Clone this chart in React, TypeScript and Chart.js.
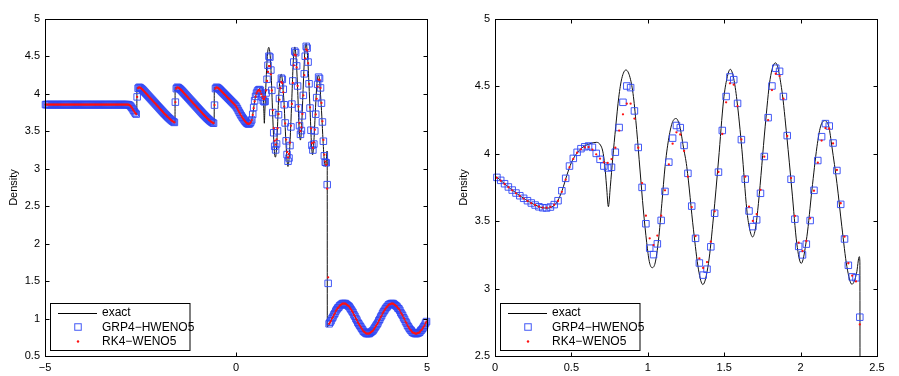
import { useEffect, useRef } from 'react';
import { Chart, registerables } from 'chart.js';

Chart.register(...registerables);

// ---------------- data ----------------
const DX = 0.025; // cell width of the numerical grid

// cell averages for x in [-5, 0] (same for both schemes at this scale)
const westDensity = [
  3.857, 3.857, 3.857, 3.857, 3.857, 3.857, 3.857, 3.857, 3.857, 3.857,
  3.857, 3.857, 3.857, 3.857, 3.857, 3.857, 3.857, 3.857, 3.857, 3.857,
  3.857, 3.857, 3.857, 3.857, 3.857, 3.857, 3.857, 3.857, 3.857, 3.857,
  3.857, 3.857, 3.857, 3.857, 3.857, 3.857, 3.857, 3.857, 3.857, 3.857,
  3.857, 3.857, 3.857, 3.857, 3.857, 3.857, 3.857, 3.857, 3.857, 3.857,
  3.857, 3.857, 3.857, 3.857, 3.857, 3.857, 3.857, 3.857, 3.857, 3.857,
  3.857, 3.857, 3.857, 3.857, 3.857, 3.857, 3.857, 3.857, 3.857, 3.857,
  3.857, 3.857, 3.857, 3.857, 3.857, 3.857, 3.857, 3.857, 3.857, 3.857,
  3.857, 3.857, 3.857, 3.857, 3.857, 3.857, 3.857,
  3.855, 3.849, 3.838, 3.822, 3.803, 3.783, 3.763, 3.744, 3.730,
  3.96,
  4.075, 4.088, 4.084, 4.075, 4.064, 4.052,
  4.038, 4.024, 4.010, 3.996, 3.982, 3.968, 3.954, 3.940, 3.926, 3.912,
  3.898, 3.884, 3.870, 3.856, 3.842, 3.828, 3.814, 3.800, 3.786, 3.772,
  3.758, 3.744, 3.731, 3.718, 3.705, 3.692, 3.680, 3.668, 3.657, 3.646,
  3.636, 3.627, 3.619,
  3.89,
  4.07, 4.088, 4.084, 4.075, 4.064, 4.052,
  4.039, 4.025, 4.011, 3.997, 3.983, 3.969, 3.955, 3.941, 3.927, 3.913,
  3.899, 3.885, 3.871, 3.857, 3.843, 3.829, 3.815, 3.801, 3.787, 3.773,
  3.759, 3.745, 3.731, 3.718, 3.705, 3.692, 3.679, 3.667, 3.655, 3.644,
  3.634, 3.624, 3.615, 3.608,
  3.85,
  4.07, 4.088, 4.084, 4.075, 4.064, 4.052, 4.039, 4.026, 4.013, 4.000,
  3.987, 3.974, 3.961, 3.948, 3.935, 3.922, 3.909, 3.896, 3.883, 3.870,
  3.857, 3.843,
];

// cell averages for x in [0, 2.4]
const grpMid = [
  3.825, 3.803, 3.778, 3.754, 3.731, 3.709, 3.689, 3.670, 3.652, 3.635,
  3.620, 3.607, 3.600, 3.598, 3.605, 3.623, 3.652, 3.726, 3.818, 3.909,
  3.966, 4.011, 4.038, 4.052, 4.058, 4.048, 4.003, 3.959, 3.909, 3.895,
  3.900, 4.012, 4.195, 4.382, 4.503, 4.491, 4.318, 4.047, 3.751, 3.481,
  3.300, 3.252, 3.332, 3.506, 3.721, 3.938, 4.116, 4.210, 4.194, 4.062,
  3.855, 3.612, 3.373, 3.190, 3.100, 3.144, 3.310, 3.559, 3.864, 4.173,
  4.425, 4.570, 4.550, 4.374, 4.105, 3.812, 3.576, 3.460, 3.510, 3.707,
  3.980, 4.268, 4.503, 4.635, 4.612, 4.425, 4.135, 3.811, 3.515, 3.313,
  3.250, 3.330, 3.505, 3.729, 3.950, 4.127, 4.224, 4.206, 4.080, 3.876,
  3.625, 3.368, 3.173, 3.087, 3.080, 2.788,
];
const rkMid = [
  3.822, 3.800, 3.776, 3.752, 3.729, 3.707, 3.687, 3.668, 3.650, 3.634,
  3.620, 3.608, 3.601, 3.600, 3.606, 3.622, 3.650, 3.718, 3.808, 3.900,
  3.962, 4.008, 4.033, 4.048, 4.050, 4.031, 3.996, 3.964, 3.937, 3.932,
  3.961, 4.045, 4.172, 4.293, 4.372, 4.372, 4.261, 4.045, 3.783, 3.541,
  3.373, 3.323, 3.393, 3.541, 3.729, 3.922, 4.075, 4.159, 4.143, 4.021,
  3.830, 3.605, 3.390, 3.224, 3.153, 3.197, 3.348, 3.573, 3.865, 4.147,
  4.382, 4.523, 4.513, 4.354, 4.107, 3.830, 3.608, 3.502, 3.553, 3.733,
  3.979, 4.250, 4.473, 4.594, 4.578, 4.409, 4.132, 3.820, 3.539, 3.341,
  3.279, 3.353, 3.521, 3.726, 3.934, 4.098, 4.191, 4.186, 4.077, 3.880,
  3.633, 3.385, 3.188, 3.096, 3.053, 2.734,
];

// shock cell (x = 2.4125)
const grpShock = [1.47];
const rkShock = [1.55];

// cell averages for x in [2.425, 5]
const eastDensity = [
  0.93, 0.95, 0.97, 1.00, 1.02, 1.05, 1.07, 1.10, 1.12, 1.14,
  1.15, 1.17, 1.18, 1.19, 1.20, 1.20, 1.20, 1.20, 1.19, 1.18,
  1.17, 1.16, 1.14, 1.12, 1.10, 1.08, 1.05, 1.03, 1.00, 0.98,
  0.95, 0.93, 0.91, 0.89, 0.87, 0.85, 0.83, 0.82, 0.81, 0.80,
  0.80, 0.80, 0.80, 0.81, 0.82, 0.83, 0.84, 0.86, 0.88, 0.90,
  0.92, 0.94, 0.97, 0.99, 1.02, 1.04, 1.07, 1.09, 1.11, 1.13,
  1.15, 1.16, 1.18, 1.19, 1.19, 1.20, 1.20, 1.20, 1.19, 1.18,
  1.17, 1.16, 1.14, 1.13, 1.11, 1.08, 1.06, 1.04, 1.01, 0.99,
  0.96, 0.94, 0.91, 0.89, 0.87, 0.85, 0.84, 0.82, 0.81, 0.81,
  0.80, 0.80, 0.80, 0.81, 0.81, 0.82, 0.84, 0.85, 0.87, 0.89,
  0.91, 0.94, 0.96,
];

// exact (reference) solution
const exactX = [
  -5, -2.83, -2.77, -2.7, -2.64, -2.597, -2.593, -2.53, -2.44, -2.09,
  -1.74, -1.66, -1.597, -1.593, -1.53, -1.44, -1.09, -0.74, -0.65, -0.572,
  -0.568, -0.5, -0.41, -0.2, 0, 0.1, 0.2, 0.3, 0.345, 0.39,
  0.41, 0.44, 0.47, 0.5, 0.53, 0.57, 0.62, 0.665, 0.69, 0.705,
  0.718, 0.73, 0.742, 0.755, 0.77, 0.79, 0.81, 0.83, 0.857, 0.884,
  0.906, 0.927, 0.949, 0.971, 0.993, 1.01, 1.028, 1.048, 1.07, 1.092,
  1.113, 1.135, 1.16, 1.185, 1.21, 1.233, 1.255, 1.299, 1.332, 1.36,
  1.397, 1.43, 1.463, 1.496, 1.518, 1.54, 1.562, 1.583, 1.616, 1.648,
  1.665, 1.686, 1.705, 1.724, 1.768, 1.8, 1.836, 1.877, 1.91, 1.943,
  1.975, 2.004, 2.041, 2.074, 2.107, 2.13, 2.157, 2.185, 2.205, 2.238,
  2.27, 2.303, 2.336, 2.366, 2.384, 2.388, 2.39, 2.513, 2.67, 2.827,
  2.985, 3.142, 3.299, 3.456, 3.613, 3.77, 3.927, 4.084, 4.241, 4.398,
  4.555, 4.712, 4.869, 5,
];
const exactY = [
  3.857, 3.857, 3.849, 3.81, 3.752, 3.728, 4.088, 4.084, 4.05, 3.856,
  3.668, 3.63, 3.615, 4.088, 4.084, 4.05, 3.857, 3.667, 3.625, 3.607,
  4.088, 4.084, 4.05, 3.92, 3.835, 3.742, 3.661, 3.603, 3.597, 3.62,
  3.65, 3.73, 3.84, 3.935, 3.995, 4.045, 4.075, 4.085, 4.065, 4.02,
  3.92, 3.76, 3.608, 3.76, 3.96, 4.2, 4.42, 4.56, 4.622, 4.565,
  4.424, 4.18, 3.88, 3.583, 3.34, 3.2, 3.155, 3.19, 3.36, 3.632,
  3.906, 4.1, 4.23, 4.262, 4.2, 4.05, 3.905, 3.436, 3.139, 3.03,
  3.187, 3.534, 3.954, 4.4, 4.56, 4.627, 4.56, 4.4, 4.03, 3.584,
  3.45, 3.383, 3.45, 3.632, 4.2, 4.55, 4.675, 4.473, 4.127, 3.731,
  3.336, 3.187, 3.385, 3.731, 4.052, 4.2, 4.246, 4.2, 4.052, 3.78,
  3.459, 3.163, 3.032, 3.113, 3.237, 3.2, 0.89, 1.0, 1.141, 1.2,
  1.141, 1.0, 0.859, 0.8, 0.859, 1.0, 1.141, 1.2, 1.141, 1.0,
  0.859, 0.8, 0.859, 0.974,
];

// axes
const leftXTicks = [-5, 0, 5];
const leftYTicks = [0.5, 1, 1.5, 2, 2.5, 3, 3.5, 4, 4.5, 5];
const rightXTicks = [0, 0.5, 1, 1.5, 2, 2.5];
const rightYTicks = [2.5, 3, 3.5, 4, 4.5, 5];
const legendLabels = ['exact', 'GRP4\u2212HWENO5', 'RK4\u2212WENO5'];
const yTitle = 'Density';

// ---------------- helpers ----------------
const FONT = '"Liberation Sans", Arial, Helvetica, sans-serif';
const BLUE = 'rgba(45, 70, 245, 0.9)';
const RED = '#ff1010';

const cells = (start: number, vals: number[]) =>
  vals.map((v, i) => ({ x: start + (i + 0.5) * DX, y: v }));

const grpAll = [...cells(-5, westDensity), ...cells(0, grpMid), ...cells(2.4, [...grpShock, ...eastDensity])];
const rkAll = [...cells(-5, westDensity), ...cells(0, rkMid), ...cells(2.4, [...rkShock, ...eastDensity])];
const grpZoom = cells(0, grpMid);
const rkZoom = cells(0, rkMid);
const exactPts = exactX.map((x, i) => ({ x, y: exactY[i] }));

const fmt = (v: number | string) => String(v).replace('-', '\u2212');

const framePlugin = {
  id: 'matlabFrame',
  afterDatasetsDraw(chart: any) {
    const { ctx, chartArea: a, scales } = chart;
    const L = Math.round(a.left) + 0.5;
    const R = Math.round(a.right) + 0.5;
    const T = Math.round(a.top) + 0.5;
    const B = Math.round(a.bottom) + 0.5;
    ctx.save();
    ctx.strokeStyle = '#000';
    ctx.lineWidth = 1;
    ctx.strokeRect(L, T, R - L, B - T);
    const tl = 4;
    ctx.beginPath();
    scales.x.ticks.forEach((t: any) => {
      const px = Math.round(scales.x.getPixelForValue(t.value)) + 0.5;
      ctx.moveTo(px, B); ctx.lineTo(px, B - tl);
      ctx.moveTo(px, T); ctx.lineTo(px, T + tl);
    });
    scales.y.ticks.forEach((t: any) => {
      const py = Math.round(scales.y.getPixelForValue(t.value)) + 0.5;
      ctx.moveTo(L, py); ctx.lineTo(L + tl, py);
      ctx.moveTo(R, py); ctx.lineTo(R - tl, py);
    });
    ctx.stroke();
    // y title
    ctx.fillStyle = '#000';
    ctx.font = `11px ${FONT}`;
    ctx.translate(13.5, (a.top + a.bottom) / 2);
    ctx.rotate(-Math.PI / 2);
    ctx.textAlign = 'center';
    ctx.textBaseline = 'middle';
    ctx.fillText(yTitle, 0, 0);
    ctx.restore();
  },
};

const legendPlugin = {
  id: 'matlabLegend',
  afterDraw(chart: any) {
    const { ctx, chartArea: a } = chart;
    const bx = Math.round(a.left) + 5.5;
    const by = Math.round(a.bottom) - 52.5;
    const bw = 139.5;
    const bh = 47;
    ctx.save();
    ctx.fillStyle = '#fff';
    ctx.fillRect(bx, by, bw, bh);
    ctx.strokeStyle = '#000';
    ctx.lineWidth = 1;
    ctx.strokeRect(bx, by, bw, bh);
    const rows = [by + 9, by + 23.5, by + 38];
    // line sample
    ctx.strokeStyle = '#000';
    ctx.beginPath();
    ctx.moveTo(bx + 7.5, Math.round(rows[0]) + 0.5);
    ctx.lineTo(bx + 46.5, Math.round(rows[0]) + 0.5);
    ctx.stroke();
    // square
    const mx = bx + 27.5;
    const s = 6.5;
    ctx.strokeStyle = BLUE;
    ctx.strokeRect(mx - s / 2, rows[1] - s / 2, s, s);
    // dot
    ctx.fillStyle = RED;
    ctx.beginPath();
    ctx.arc(mx, rows[2], 1.2, 0, Math.PI * 2);
    ctx.fill();
    // labels
    ctx.fillStyle = '#000';
    ctx.font = `12px ${FONT}`;
    ctx.textAlign = 'left';
    ctx.textBaseline = 'middle';
    legendLabels.forEach((lab, i) => ctx.fillText(lab, bx + 51.5, rows[i] + 0.5));
    ctx.restore();
  },
};

function makeConfig(p: {
  xMin: number; xMax: number; yMin: number; yMax: number;
  xTicks: number[]; yTicks: number[];
  grp: { x: number; y: number }[]; rk: { x: number; y: number }[];
}): any {
  const tickFont = { family: FONT, size: 11 };
  return {
    type: 'scatter',
    data: {
      datasets: [
        {
          label: legendLabels[2], data: p.rk, showLine: false, clip: false, order: 0,
          pointStyle: 'circle', pointRadius: 1.15, pointBorderWidth: 0,
          pointBackgroundColor: RED, pointBorderColor: RED,
        },
        {
          label: legendLabels[1], data: p.grp, showLine: false, clip: false, order: 1,
          pointStyle: 'rect', pointRadius: 4.6, pointBorderWidth: 1,
          pointBackgroundColor: 'rgba(0,0,0,0)', pointBorderColor: BLUE,
        },
        {
          label: legendLabels[0], data: exactPts, showLine: true, order: 2,
          pointRadius: 0, borderColor: '#111', borderWidth: 1,
          cubicInterpolationMode: 'monotone', tension: 0.4,
        },
      ],
    },
    options: {
      responsive: false,
      animation: false,
      events: [],
      layout: { padding: { left: 0, right: 22, top: 19, bottom: 0 } },
      scales: {
        x: {
          type: 'linear', min: p.xMin, max: p.xMax,
          afterBuildTicks: (s: any) => { s.ticks = p.xTicks.map((v) => ({ value: v })); },
          afterFit: (s: any) => { s.height = 20; },
          grid: { display: false, drawTicks: false },
          border: { display: false },
          ticks: { font: tickFont, color: '#000', padding: 5, maxRotation: 0, autoSkip: false, callback: (v: any) => fmt(v) },
        },
        y: {
          type: 'linear', min: p.yMin, max: p.yMax,
          afterBuildTicks: (s: any) => { s.ticks = p.yTicks.map((v) => ({ value: v })); },
          afterFit: (s: any) => { s.width = 45; },
          grid: { display: false, drawTicks: false },
          border: { display: false },
          ticks: { font: tickFont, color: '#000', padding: 5, autoSkip: false, callback: (v: any) => fmt(v) },
        },
      },
      plugins: { legend: { display: false }, tooltip: { enabled: false } },
    },
    plugins: [framePlugin, legendPlugin],
  };
}

export default function App() {
  const leftRef = useRef<HTMLCanvasElement>(null);
  const rightRef = useRef<HTMLCanvasElement>(null);

  useEffect(() => {
    const c1 = new Chart(leftRef.current!, makeConfig({
      xMin: -5, xMax: 5, yMin: 0.5, yMax: 5, xTicks: leftXTicks, yTicks: leftYTicks, grp: grpAll, rk: rkAll,
    }));
    const c2 = new Chart(rightRef.current!, makeConfig({
      xMin: 0, xMax: 2.5, yMin: 2.5, yMax: 5, xTicks: rightXTicks, yTicks: rightYTicks, grp: grpZoom, rk: rkZoom,
    }));
    return () => { c1.destroy(); c2.destroy(); };
  }, []);

  return (
    <div style={{ position: 'fixed', left: 0, top: 0, width: 899, height: 376, background: '#fff' }}>
      <canvas ref={leftRef} width={449} height={376}
        style={{ position: 'absolute', left: 0, top: 0, width: 449, height: 376 }} />
      <canvas ref={rightRef} width={449} height={376}
        style={{ position: 'absolute', left: 450, top: 0, width: 449, height: 376 }} />
    </div>
  );
}
